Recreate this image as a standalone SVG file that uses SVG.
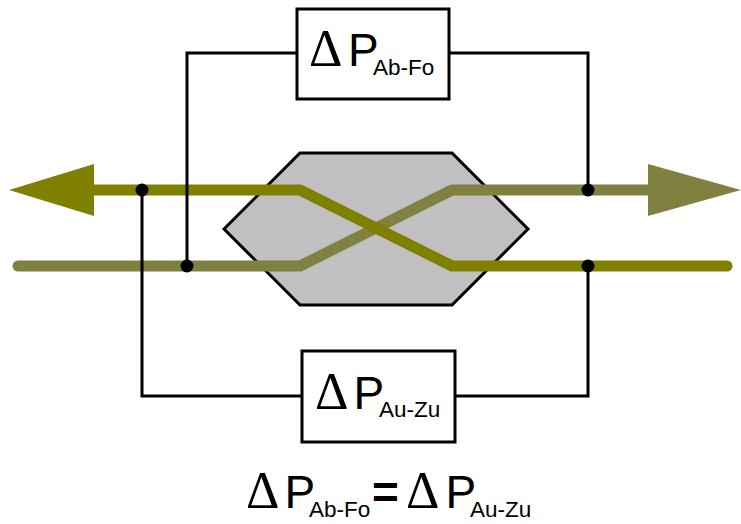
<svg xmlns="http://www.w3.org/2000/svg" width="741" height="524" viewBox="0 0 741 524">
<style>
.w{fill:none;stroke:#000;stroke-width:3}
.b{fill:#fff;stroke:#000;stroke-width:3}
.d{fill:#000}
.f{fill:none;stroke-width:11;stroke-linejoin:round;stroke-linecap:round}
.t{font-family:"Liberation Sans",Arial,sans-serif;fill:#000}
.g{font-family:"Liberation Serif","Times New Roman",serif;font-size:52px;fill:#000}
.m{font-size:46px}
.s{font-size:22.500px}
.e{font-size:46px;font-weight:bold}
</style>
<rect width="741" height="524" fill="#fff"/>
<g id="exchanger"><polygon points="224,229 300,153 452,153 528,229 452,305 300,305" fill="#c0c0c0" stroke="#000" stroke-width="3"/></g>
<g id="connectors">
<path class="f" stroke="#808040" d="M18,266H300L452,190H650"/>
<polygon points="648,164 741,190 648,216" fill="#808040"/>
<path class="f" stroke="#808000" d="M92,190H300L452,266H727"/>
<polygon points="94,164 9,190 94,216" fill="#808000"/>
<path class="w" d="M297,53H187V266"/>
<path class="w" d="M449,53H588V190"/>
<path class="w" d="M302,396H142V190"/>
<path class="w" d="M455,396H588V266"/>
<circle class="d" cx="142" cy="190" r="6.5"/>
<circle class="d" cx="187" cy="266" r="6.5"/>
<circle class="d" cx="588" cy="190" r="6.5"/>
<circle class="d" cx="588" cy="266" r="6.5"/>
</g>
<g id="box-ab-fo"><rect class="b" x="297" y="9" width="152" height="90"/>
<text class="g" x="309" y="66">Δ</text><text class="t m" x="348" y="65.500">P</text><text class="t s" x="373" y="75">Ab-Fo</text></g>
<g id="box-au-zu"><rect class="b" x="302" y="351" width="153" height="91"/>
<text class="g" x="315" y="409">Δ</text><text class="t m" x="353.500" y="408.500">P</text><text class="t s" x="379" y="417">Au-Zu</text></g>
<g id="equation"><text class="g" x="246" y="508">Δ</text><text class="t m" x="284.500" y="507.500">P</text><text class="t s" x="309" y="517">Ab-Fo</text>
<text class="t e" x="372" y="508">=</text>
<text class="g" x="406" y="508">Δ</text><text class="t m" x="445.500" y="507.500">P</text><text class="t s" x="470" y="517">Au-Zu</text></g>
</svg>
